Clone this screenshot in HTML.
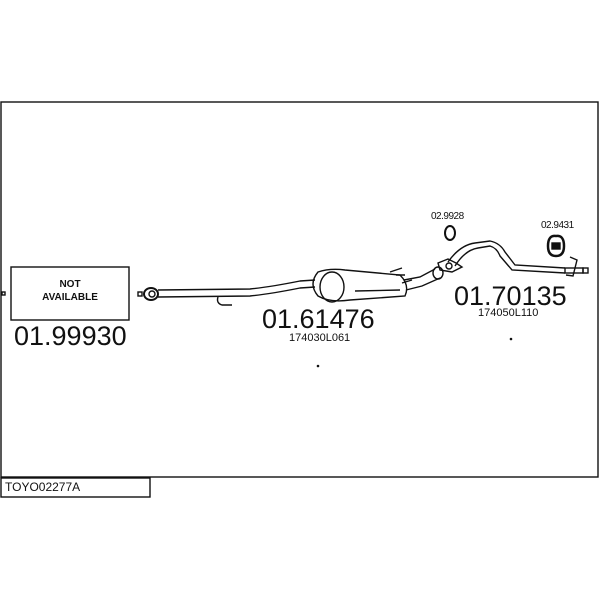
<!DOCTYPE html>
<html><head><style>
body{margin:0;background:#fff;width:600px;height:600px;position:relative;overflow:hidden;font-family:"Liberation Sans",sans-serif;color:#111}
.t{position:absolute;white-space:nowrap}
</style></head><body>
<svg width="600" height="600" style="position:absolute;left:0;top:0" fill="none" stroke="#111" stroke-width="1.4">
<rect x="1" y="102" width="597" height="375"/>
<rect x="1" y="478" width="149" height="19"/>
<rect x="11" y="267" width="118" height="53"/>
<rect x="2" y="292" width="3" height="3"/>
<rect x="138" y="292" width="4" height="4"/>
<ellipse cx="151" cy="294" rx="7" ry="6" stroke-width="2"/>
<circle cx="152" cy="294" r="3"/>
<path d="M158 290 L250 289 Q270 287 300 281 L315 280"/>
<path d="M158 297 L250 296 Q270 294 300 288 L315 287"/>
<path d="M218 297 Q216 303 222 305 L232 305"/>
<path d="M318 272 Q330 268 345 270 L400 275 Q410 285 405 296 L350 300 Q330 303 318 296 Q308 284 318 272 Z"/>
<ellipse cx="332" cy="287" rx="12" ry="15"/>
<path d="M355 291 L400 290"/>
<path d="M390 272 L402 268 M396 275 L405 275 M402 283 L412 280"/>
<path d="M404 280 L420 277 L435 269"/>
<path d="M406 290 L422 286 L440 278"/>
<ellipse cx="438" cy="273" rx="5" ry="6"/>
<path d="M438 263 L448 259 L456 263 L462 267 L452 272 L440 270 Z"/>
<circle cx="449" cy="266" r="3"/>
<ellipse cx="450" cy="233" rx="5" ry="7" stroke-width="2"/>
<path d="M448 262 Q460 245 475 243 L490 241 Q500 243 505 252 L515 265 L565 268"/>
<path d="M455 266 Q465 250 478 248 L490 246 Q497 248 500 256 L512 270 L565 273"/>
<rect x="565" y="268" width="18" height="5"/>
<rect x="583" y="268" width="5" height="5"/>
<path d="M570 257 L577 260 L573 276 L566 275"/>
<path d="M556 236 Q548 235 548 246 Q548 256 556 256 Q564 256 564 246 Q564 235 556 236 Z" stroke-width="2.5"/>
<rect x="552" y="243" width="8" height="6" fill="#111"/>
<circle cx="318" cy="366" r="0.6" fill="#111"/>
<circle cx="511" cy="339" r="0.6" fill="#111"/>
</svg>
<div class="t" style="left:11px;top:278px;width:118px;text-align:center;font-size:10px;font-weight:bold;line-height:13px">NOT<br>AVAILABLE</div>
<div class="t" style="left:14px;top:321px;font-size:27px">01.99930</div>
<div class="t" style="left:262px;top:304px;font-size:27px">01.61476</div>
<div class="t" style="left:289px;top:332px;font-size:11px">174030L061</div>
<div class="t" style="left:454px;top:281px;font-size:27px">01.70135</div>
<div class="t" style="left:478px;top:307px;font-size:11px">174050L110</div>
<div class="t" style="left:431px;top:211px;font-size:10px;letter-spacing:-0.5px">02.9928</div>
<div class="t" style="left:541px;top:220px;font-size:10px;letter-spacing:-0.5px">02.9431</div>
<div class="t" style="left:5px;top:480px;font-size:12px">TOYO02277A</div>
</body></html>
